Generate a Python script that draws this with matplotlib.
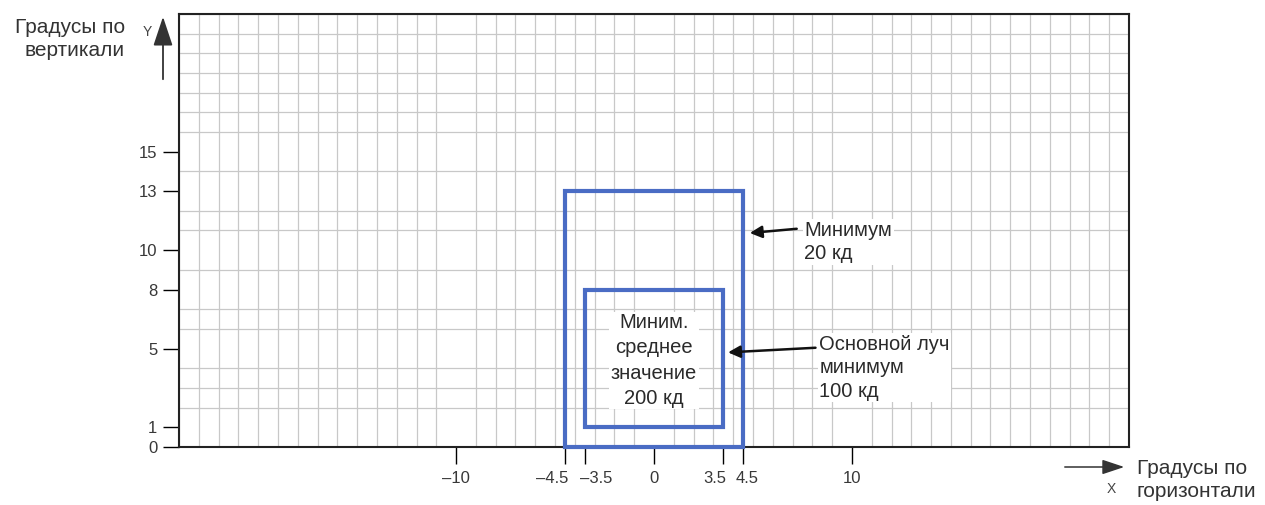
import matplotlib
matplotlib.use("Agg")
import matplotlib.pyplot as plt
from matplotlib.patches import Rectangle, FancyArrowPatch
from matplotlib.ticker import MultipleLocator
from matplotlib.transforms import ScaledTranslation

plt.rcParams['font.family'] = ['Liberation Sans', 'DejaVu Sans']

# Data
x_ticks = [-10, -4.5, -3.5, 0, 3.5, 4.5, 10]
x_tick_labels = ['\u201310', '\u20134.5', '\u20133.5', '0', '3.5', '4.5', '10']
y_ticks = [0, 1, 5, 8, 10, 13, 15]
outer_x = [-4.5, 4.5]
outer_y = [0, 13]
inner_x = [-3.5, 3.5]
inner_y = [1, 8]
x_range = [-24, 24]
y_range = [0, 22]

blue = '#4a6cc4'
W, H = 1265, 505

fig = plt.figure(figsize=(W / 100, H / 100), dpi=100)
ax = fig.add_axes([179/W, 58/H, 950/W, 433/H])
ax.set_xlim(*x_range)
ax.set_ylim(*y_range)

ax.xaxis.set_minor_locator(MultipleLocator(1))
ax.yaxis.set_minor_locator(MultipleLocator(1))
ax.grid(which='minor', color='#c8c8c8', linewidth=0.9)
ax.grid(which='major', visible=False)
ax.set_axisbelow(True)
ax.tick_params(which='minor', length=0)

ax.set_xticks(x_ticks)
ax.set_xticklabels(x_tick_labels)
ax.set_yticks(y_ticks)
ax.tick_params(axis='x', which='major', length=12.5, width=1.0, pad=5, labelsize=12, labelcolor='#383838')
ax.tick_params(axis='y', which='major', length=11.5, width=1.0, pad=4, labelsize=12, labelcolor='#383838')
for t, v in zip(ax.xaxis.get_major_ticks(), x_ticks):
    t.tick1line.set_color('#aaaaaa' if v in (-10, 0, 10) else '#333333')
for t in ax.yaxis.get_major_ticks():
    t.tick1line.set_color('#888888')

# shift the crowded tick labels apart (pixel offsets)
offsets = {-4.5: ('right', 3), -3.5: ('left', -5), 3.5: ('right', 3), 4.5: ('left', -7)}
for lab, v in zip(ax.get_xticklabels(), x_ticks):
    if v in offsets:
        ha, dx = offsets[v]
        lab.set_horizontalalignment(ha)
        lab.set_transform(lab.get_transform() + ScaledTranslation(dx / 100, 0, fig.dpi_scale_trans))

for s in ax.spines.values():
    s.set_color('#222222')
    s.set_linewidth(1.5)

ax.add_patch(Rectangle((outer_x[0], outer_y[0]), outer_x[1]-outer_x[0], outer_y[1]-outer_y[0],
                       fill=False, edgecolor=blue, linewidth=3, zorder=3, clip_on=False))
ax.add_patch(Rectangle((inner_x[0], inner_y[0]), inner_x[1]-inner_x[0], inner_y[1]-inner_y[0],
                       fill=False, edgecolor=blue, linewidth=3, zorder=3))

tc = '#2a2a2a'
bb = dict(facecolor='white', edgecolor='none', pad=1)

ax.text(0, 4.4, 'Миним.\nсреднее\nзначение\n200 кд', ha='center', va='center',
        fontsize=14.5, color=tc, linespacing=1.42, zorder=4, bbox=bb)

ax.annotate('', xy=(4.7, 10.86), xytext=(7.35, 11.1),
            arrowprops=dict(arrowstyle='-|>', color='#111111', lw=1.8, mutation_scale=18), zorder=5)
ax.text(7.6, 11.5, 'Минимум\n20 кд', ha='left', va='top', fontsize=14.5, color=tc,
        linespacing=1.3, zorder=5, bbox=bb)

ax.annotate('', xy=(3.6, 4.8), xytext=(8.3, 5.05),
            arrowprops=dict(arrowstyle='-|>', color='#111111', lw=1.8, mutation_scale=18), zorder=5)
ax.text(8.35, 5.7, 'Основной луч\nминимум\n100 кд', ha='left', va='top', fontsize=14.5,
        color=tc, linespacing=1.3, zorder=5, bbox=bb)

def fx(px): return px / W
def fy(py): return 1 - py / H

fig.text(fx(125), fy(39), 'Градусы по\nвертикали', ha='right', va='center', fontsize=15,
         color='#333333', linespacing=1.25)
fig.patches.append(FancyArrowPatch((fx(163), fy(82)), (fx(163), fy(14)),
        transform=fig.transFigure, arrowstyle='-|>,head_length=0.9,head_width=0.3',
        mutation_scale=20, color='#333333', lw=1.3))
fig.text(fx(147), fy(32), 'Y', ha='center', va='center', fontsize=10, color='#444444')

fig.patches.append(FancyArrowPatch((fx(1062), fy(467)), (fx(1127), fy(467)),
        transform=fig.transFigure, arrowstyle='-|>,head_length=0.9,head_width=0.3',
        mutation_scale=15, color='#333333', lw=1.1))
fig.text(fx(1111), fy(489), 'X', ha='center', va='center', fontsize=10, color='#444444')
fig.text(fx(1137), fy(480), 'Градусы по\nгоризонтали', ha='left', va='center', fontsize=15,
         color='#333333', linespacing=1.25)

fig.savefig('out.png', dpi=100, facecolor='white')
